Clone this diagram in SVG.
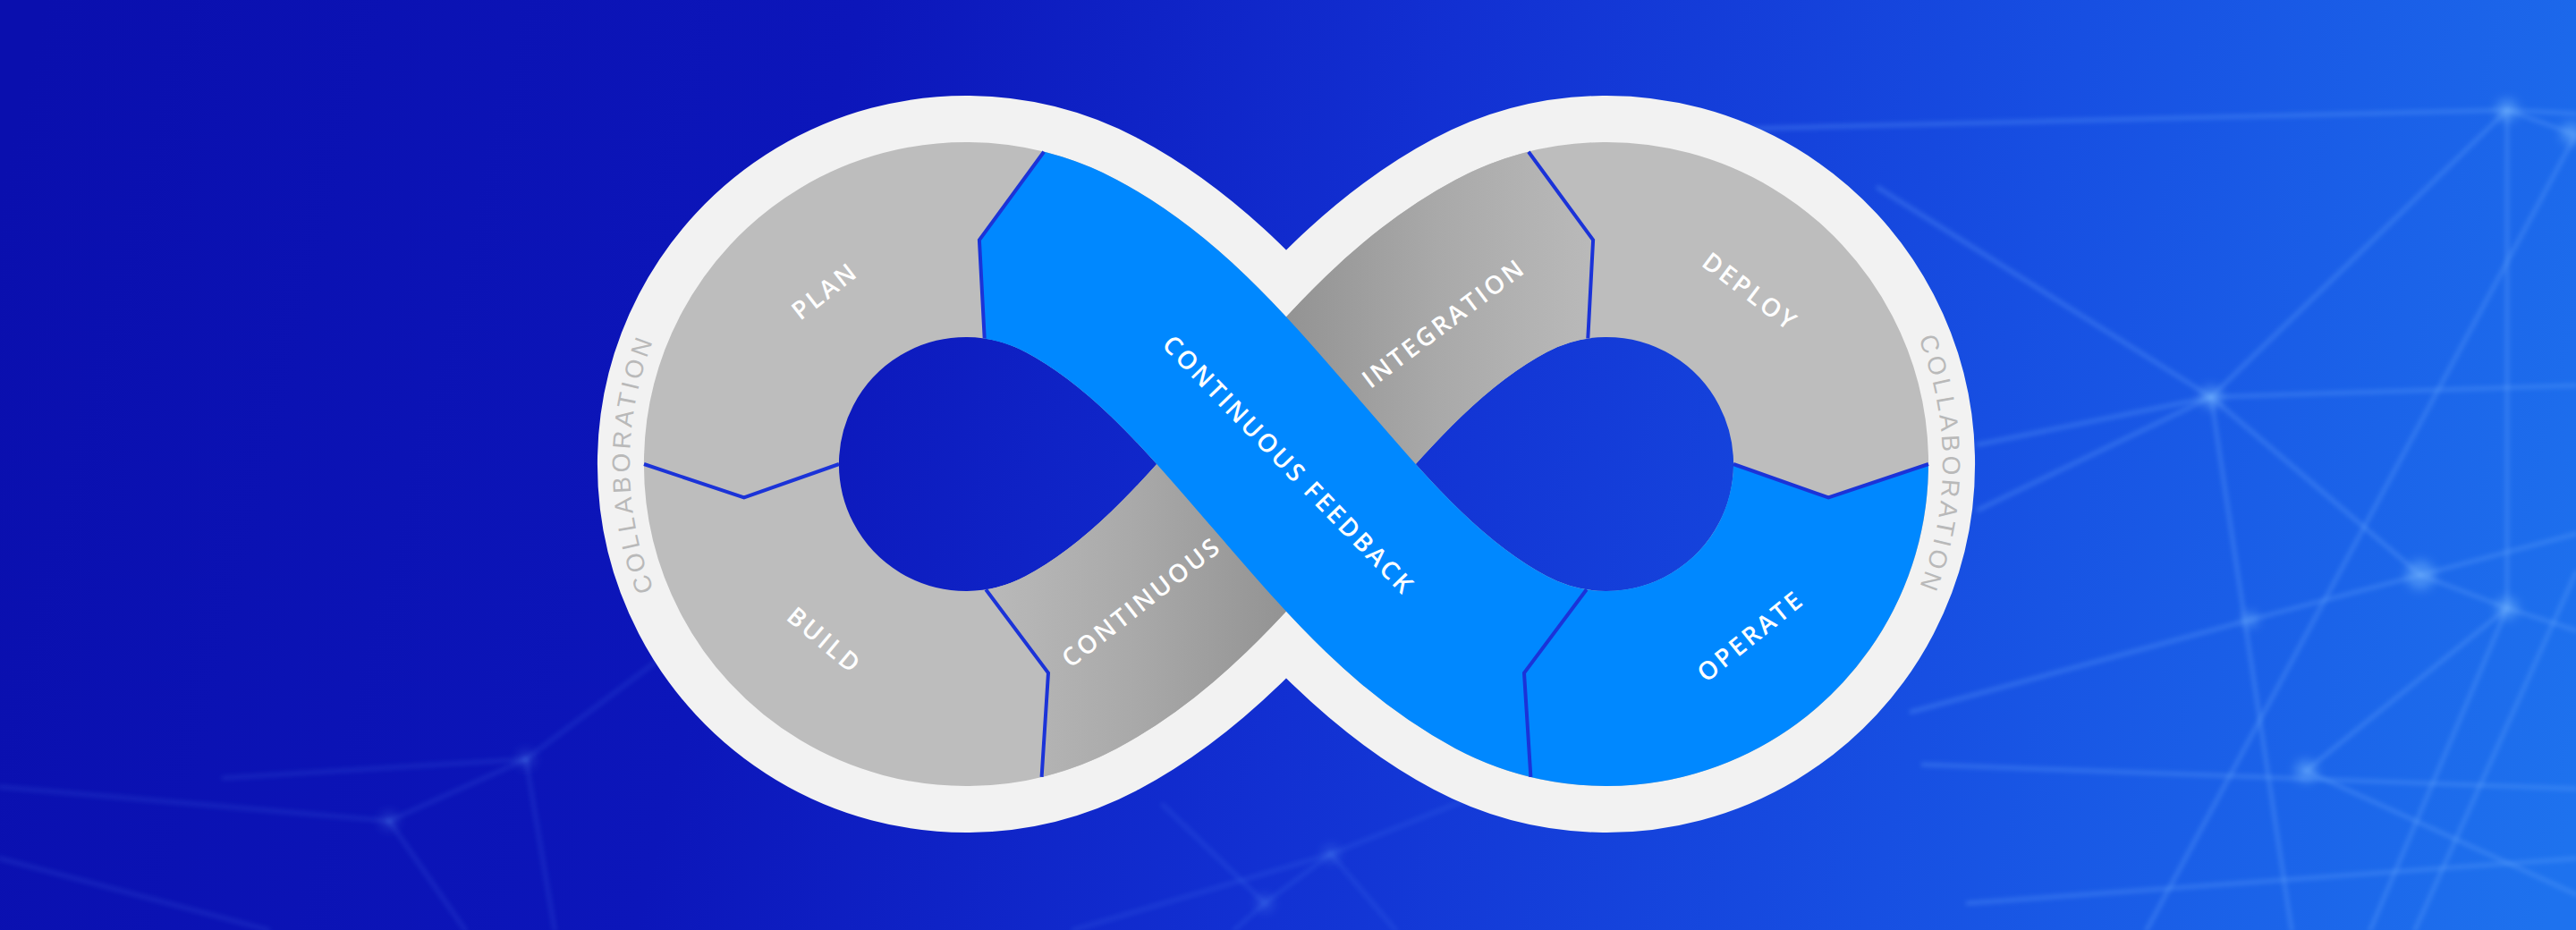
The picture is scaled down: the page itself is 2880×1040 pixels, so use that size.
<svg xmlns="http://www.w3.org/2000/svg" width="2880" height="1040" viewBox="0 0 2880 1040">
<defs>
  <linearGradient id="bg" gradientUnits="userSpaceOnUse" x1="0" y1="200" x2="2880" y2="900">
    <stop offset="0" stop-color="#0a0fae"/>
    <stop offset="0.3" stop-color="#0c16ba"/>
    <stop offset="0.52" stop-color="#1230d2"/>
    <stop offset="0.75" stop-color="#174fe2"/>
    <stop offset="1" stop-color="#1e72ee"/>
  </linearGradient>
  <linearGradient id="dark" gradientUnits="userSpaceOnUse" x1="1100" y1="0" x2="1776" y2="0">
    <stop offset="0" stop-color="#bababa"/>
    <stop offset="0.25" stop-color="#a9a9a9"/>
    <stop offset="0.5" stop-color="#939393"/>
    <stop offset="0.75" stop-color="#a9a9a9"/>
    <stop offset="1" stop-color="#b9b9b9"/>
  </linearGradient>
  <filter id="soft" x="-20%" y="-20%" width="140%" height="140%"><feGaussianBlur stdDeviation="2.5"/></filter>
  <filter id="glow" x="-100%" y="-100%" width="300%" height="300%"><feGaussianBlur stdDeviation="6"/></filter>
  <path id="cl" d="M1197.8 297.4 C1295 349 1365.8 436 1438 519 C1510.2 602 1581 689 1678.2 740.6 A251 251 0 1 0 1678.2 297.4 C1581 349 1510.2 436 1438 519 C1365.8 602 1295 689 1197.8 740.6 A251 251 0 1 1 1197.8 297.4 Z"/>
  <mask id="outside" maskUnits="userSpaceOnUse" x="0" y="0" width="2880" height="1040">
    <rect width="2880" height="1040" fill="#fff"/>
    <use href="#cl" fill="#000"/>
  </mask>
  <clipPath id="clipBlue"><path clip-rule="evenodd" d="M0 0H2880V1040H0Z M1080 519 L1100.7 378.5 L1094.9 268.4 L1167.1 169.7 L1191.3 72.7 L885.6 102.1Z M1796 519 L1938 519 L2044.2 556.5 L2156 519 L2256 519 L2194.4 289Z"/></clipPath>
  <clipPath id="clipDark"><path clip-rule="evenodd" d="M0 0H2880V1040H0Z M1080 519 L1102.2 659.3 L1172 752.5 L1164.6 868.9 L1188.2 966.1 L922.7 951.3Z M1796 519 L1775.3 378.5 L1781.1 268.4 L1708.9 169.7 L1684.7 72.7 L1990.4 102.1Z"/></clipPath>
  <path id="arcL" d="M792 760.7 A376 376 0 0 1 792 277.3"/>
  <path id="arcR" d="M2084 277.3 A376 376 0 0 1 2084 760.7"/>
  <style>
    .net { stroke:#6aaeff; stroke-width:5; fill:none; stroke-opacity:0.28; stroke-linecap:round; }
    .netf { stroke:#5f9cff; stroke-width:5; fill:none; stroke-opacity:0.13; stroke-linecap:round; }
    .dot { fill:#7cbcff; fill-opacity:0.45; }
    .dotf { fill:#6fa8ff; fill-opacity:0.2; }
    .lbl { font-family:"Open Sans","Liberation Sans",sans-serif; font-weight:600; font-size:28px; letter-spacing:3px; fill:#ffffff; text-anchor:middle; }
    .collab { font-family:"Liberation Sans","Open Sans",sans-serif; font-size:28px; letter-spacing:4px; fill:#b9b9b9; text-anchor:middle; }
    .div { fill:none; stroke:#1b33d8; stroke-width:4; stroke-linejoin:miter; }
  </style>
</defs>

<rect id="background" width="2880" height="1040" fill="url(#bg)"/>

<g id="network" filter="url(#soft)">
  <path class="net" d="M1700 150 L2803 123 L2880 127"/>
  <path class="net" d="M2803 123 L2472 444"/>
  <path class="net" d="M2100 210 L2472 444"/>
  <path class="net" d="M2212 497 L2472 444"/>
  <path class="net" d="M2212 570 L2472 444"/>
  <path class="net" d="M2472 444 L2880 431"/>
  <path class="net" d="M2472 444 L2562 1040"/>
  <path class="net" d="M2472 444 L2706 643"/>
  <path class="net" d="M2803 123 L2803 680"/>
  <path class="net" d="M2880 150 L2400 1040"/>
  <path class="net" d="M2706 643 L2880 597"/>
  <path class="net" d="M2706 643 L2803 680 L2880 705"/>
  <path class="net" d="M2137 796 L2516 693 L2706 643"/>
  <path class="net" d="M2150 855 L2880 882"/>
  <path class="net" d="M2578 862 L2803 680"/>
  <path class="net" d="M2578 862 L2880 1000"/>
  <path class="net" d="M2803 123 L2875 149"/>
  <path class="net" d="M2803 680 L2650 1040"/>
  <path class="net" d="M2880 640 L2700 1040"/>
  <path class="net" d="M2200 1010 L2880 960"/>
  <path class="netf" d="M588 849 L435 918"/>
  <path class="netf" d="M588 849 L760 720"/>
  <path class="netf" d="M588 849 L620 1040"/>
  <path class="netf" d="M588 849 L250 870"/>
  <path class="netf" d="M435 918 L520 1040"/>
  <path class="netf" d="M435 918 L0 880"/>
  <path class="netf" d="M0 960 L300 1040"/>
  <path class="netf" d="M1414 1010 L1488 955 L1700 870"/>
  <path class="netf" d="M1488 955 L1560 1040"/>
  <path class="netf" d="M1300 900 L1414 1010 L1380 1040"/>
  <path class="netf" d="M1200 1040 L1488 955"/>
</g>
<g id="network-nodes" filter="url(#glow)">
  <circle class="dot" cx="2803" cy="123" r="12"/>
  <circle class="dot" cx="2875" cy="149" r="12"/>
  <circle class="dot" cx="2472" cy="444" r="12"/>
  <circle class="dot" cx="2706" cy="643" r="16"/>
  <circle class="dot" cx="2803" cy="680" r="12"/>
  <circle class="dot" cx="2578" cy="862" r="12"/>
  <circle class="dot" cx="2516" cy="693" r="8"/>
  <circle class="dotf" cx="588" cy="849" r="10"/>
  <circle class="dotf" cx="435" cy="918" r="10"/>
  <circle class="dotf" cx="1488" cy="955" r="10"/>
  <circle class="dotf" cx="1414" cy="1010" r="10"/>
</g>

<g id="infinity">
  <use id="outline" href="#cl" fill="none" stroke="#f2f2f2" stroke-width="322" mask="url(#outside)"/>
  <use id="band" href="#cl" fill="none" stroke="#bdbdbd" stroke-width="218"/>
  <path id="strand-dark" clip-path="url(#clipDark)" fill="none" stroke="url(#dark)" stroke-width="218" d="M1036.4 766.2 A251 251 0 0 0 1197.8 740.6 C1295 689 1365.8 602 1438 519 C1510.2 436 1581 349 1678.2 297.4 A251 251 0 0 1 1839.6 271.8"/>
  <path id="strand-blue" clip-path="url(#clipBlue)" fill="none" stroke="#0088ff" stroke-width="218" d="M1015 276.6 A251 251 0 0 1 1197.8 297.4 C1295 349 1365.8 436 1438 519 C1510.2 602 1581 689 1678.2 740.6 A251 251 0 0 0 2038.4 454"/>
</g>

<g id="connectors">
  <polyline class="div" points="1100.7,378.5 1094.9,268.4 1167.1,169.7"/>
  <polyline class="div" points="938,519 831.8,556.5 720,519"/>
  <polyline class="div" points="1102.2,659.3 1172,752.5 1164.6,868.9"/>
  <polyline class="div" points="1775.3,378.5 1781.1,268.4 1708.9,169.7"/>
  <polyline class="div" points="1938,519 2044.2,556.5 2156,519"/>
  <polyline class="div" points="1773.8,659.3 1704,752.5 1711.4,868.9"/>
</g>

<g id="plan"><text class="lbl" transform="translate(922,325) rotate(-38)" dy="0.36em">PLAN</text></g>
<g id="build"><text class="lbl" transform="translate(922,716) rotate(40)" dy="0.36em">BUILD</text></g>
<g id="continuous"><text class="lbl" transform="translate(1276,673) rotate(-38)" dy="0.36em">CONTINUOUS</text></g>
<g id="integration"><text class="lbl" transform="translate(1614,361) rotate(-37)" dy="0.36em">INTEGRATION</text></g>
<g id="deploy"><text class="lbl" transform="translate(1957,326) rotate(37)" dy="0.36em">DEPLOY</text></g>
<g id="operate"><text class="lbl" transform="translate(1957,711) rotate(-39)" dy="0.36em">OPERATE</text></g>
<g id="continuous-feedback"><text class="lbl" transform="translate(1441,520) rotate(46)" dy="0.36em">CONTINUOUS FEEDBACK</text></g>
<g id="collaboration-left"><text class="collab"><textPath href="#arcL" startOffset="50%">COLLABORATION</textPath></text></g>
<g id="collaboration-right"><text class="collab"><textPath href="#arcR" startOffset="50%">COLLABORATION</textPath></text></g>
</svg>
